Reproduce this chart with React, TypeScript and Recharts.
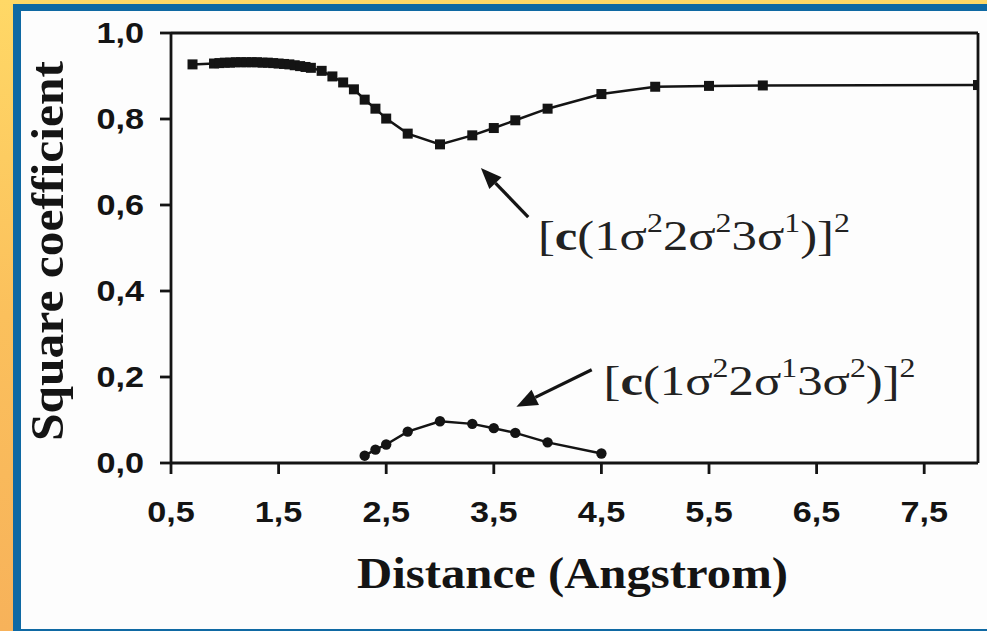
import React from "react";
import {
  LineChart,
  Line,
  XAxis,
  YAxis,
  ReferenceLine,
  ReferenceDot,
  Label,
} from "recharts";

// [c(1σ²2σ²3σ¹)]² — square markers
const distA = [
  0.7, 0.9, 0.95, 1.0, 1.05, 1.1, 1.15, 1.2, 1.25, 1.3, 1.35, 1.4, 1.45, 1.5,
  1.55, 1.6, 1.65, 1.7, 1.75, 1.8, 1.9, 2.0, 2.1, 2.2, 2.3, 2.4, 2.5, 2.7, 3.0,
  3.3, 3.5, 3.7, 4.0, 4.5, 5.0, 5.5, 6.0, 8.0,
];
const coefA = [
  0.927, 0.929, 0.93, 0.931, 0.931, 0.932, 0.932, 0.932, 0.932, 0.932, 0.931,
  0.931, 0.93, 0.929, 0.928, 0.927, 0.925, 0.923, 0.921, 0.919, 0.912, 0.899,
  0.885, 0.869, 0.845, 0.824, 0.801, 0.766, 0.741, 0.762, 0.779, 0.797, 0.824,
  0.858, 0.875, 0.877, 0.878, 0.879,
];

// [c(1σ²2σ¹3σ²)]² — round markers
const distB = [2.3, 2.4, 2.5, 2.7, 3.0, 3.3, 3.5, 3.7, 4.0, 4.5];
const coefB = [0.017, 0.031, 0.043, 0.073, 0.097, 0.091, 0.081, 0.07, 0.048, 0.022];

const xTicks = [0.5, 1.5, 2.5, 3.5, 4.5, 5.5, 6.5, 7.5];
const yTicks = [0, 0.2, 0.4, 0.6, 0.8, 1.0];

const seriesA = distA.map((x, i) => ({ x, y: coefA[i] }));
const seriesB = distB.map((x, i) => ({ x, y: coefB[i] }));

const INK = "#141414";
const sans = "'Liberation Sans', Arial, sans-serif";
const serif = "'Liberation Serif', 'Times New Roman', serif";

const fmt = (v: number) => v.toFixed(1).replace(".", ",");

// the scan is a little wider than tall, so text gets stretched sideways
const STRETCH = 1.18;

const XTick = (p: any) => (
  <text
    transform={`translate(${p.x} ${p.y}) scale(${STRETCH} 1)`}
    textAnchor="middle"
    dy="0.71em"
    fill={INK}
    fontFamily={sans}
    fontWeight={700}
    fontSize={29}
  >
    {fmt(p.payload.value)}
  </text>
);

const YTick = (p: any) => (
  <text
    transform={`translate(${p.x} ${p.y}) scale(${STRETCH} 1)`}
    textAnchor="end"
    dy="0.355em"
    fill={INK}
    fontFamily={sans}
    fontWeight={700}
    fontSize={29}
  >
    {fmt(p.payload.value)}
  </text>
);

const SquareDot = (p: any) => (
  <rect key={p.key} x={p.cx - 5} y={p.cy - 5} width={10} height={10} fill={INK} />
);
const RoundDot = (p: any) => (
  <circle key={p.key} cx={p.cx} cy={p.cy} r={5.2} fill={INK} />
);

const Arrow = (p: any) => {
  const { x1, y1, x2, y2 } = p;
  const a = Math.atan2(y2 - y1, x2 - x1);
  const len = 21;
  const w = 8.5;
  const bx = x2 - len * Math.cos(a);
  const by = y2 - len * Math.sin(a);
  const nx = -Math.sin(a) * w;
  const ny = Math.cos(a) * w;
  return (
    <g>
      <line x1={x1} y1={y1} x2={bx} y2={by} stroke={INK} strokeWidth={3.2} />
      <polygon
        points={`${x2},${y2} ${bx + nx},${by + ny} ${bx - nx},${by - ny}`}
        fill={INK}
      />
    </g>
  );
};

const formula = (sups: string[]) => (p: any) => {
  const ss = 27;
  const up = 18;
  return (
    <text
      transform={`translate(${p.cx} ${p.cy}) scale(${STRETCH} 1)`}
      fontFamily={serif}
      fontSize={43}
      fill="#222"
    >
      <tspan>[</tspan>
      <tspan fontWeight={700}>c</tspan>
      <tspan>(1σ</tspan>
      <tspan dy={-up} fontSize={ss}>{sups[0]}</tspan>
      <tspan dy={up}>2σ</tspan>
      <tspan dy={-up} fontSize={ss}>{sups[1]}</tspan>
      <tspan dy={up}>3σ</tspan>
      <tspan dy={-up} fontSize={ss}>{sups[2]}</tspan>
      <tspan dy={up}>)]</tspan>
      <tspan dy={-up} fontSize={ss}>2</tspan>
    </text>
  );
};

export default function App() {
  return (
    <div
      style={{
        position: "absolute",
        left: 0,
        top: 0,
        width: 987,
        height: 631,
        background: "linear-gradient(180deg, #ffd866 0%, #fbc05c 50%, #f7b25a 100%)",
        overflow: "hidden",
      }}
    >
      <div
        style={{
          position: "absolute",
          left: 13,
          top: 4,
          right: 0,
          bottom: 0,
          background: "#0f69a3",
        }}
      />
      <div
        style={{
          position: "absolute",
          left: 21,
          top: 11,
          right: 0,
          bottom: 2,
          background: "#fdfdfd",
        }}
      />
      <div style={{ position: "absolute", left: 0, top: 0 }}>
        <LineChart
          width={987}
          height={631}
          margin={{ top: 33, right: 9, left: 0, bottom: 0 }}
        >
          <XAxis
            dataKey="x"
            type="number"
            domain={[0.5, 8]}
            ticks={xTicks}
            allowDataOverflow
            height={168}
            stroke={INK}
            strokeWidth={2.8}
            tickSize={11}
            tickMargin={27}
            tick={XTick}
          >
            <Label
              content={(lp: any) => {
                const vb = lp.viewBox;
                return (
                  <text
                    x={vb.x + vb.width / 2 - 2}
                    y={vb.y + 125}
                    textAnchor="middle"
                    fontFamily={serif}
                    fontWeight={700}
                    fontSize={44}
                    textLength={431}
                    lengthAdjust="spacingAndGlyphs"
                    fill={INK}
                  >
                    Distance (Angstrom)
                  </text>
                );
              }}
            />
          </XAxis>
          <YAxis
            type="number"
            domain={[0, 1]}
            ticks={yTicks}
            width={171}
            stroke={INK}
            strokeWidth={2.8}
            tickSize={11}
            tickMargin={16}
            tick={YTick}
          >
            <Label
              content={(lp: any) => {
                const vb = lp.viewBox;
                const cx = 63;
                const cy = vb.y + vb.height / 2 + 3;
                return (
                  <text
                    x={cx}
                    y={cy}
                    transform={`rotate(-90 ${cx} ${cy})`}
                    textAnchor="middle"
                    fontFamily={serif}
                    fontWeight={700}
                    fontSize={47}
                    textLength={380}
                    lengthAdjust="spacingAndGlyphs"
                    fill={INK}
                  >
                    Square coefficient
                  </text>
                );
              }}
            />
          </YAxis>
          <ReferenceLine y={1} stroke={INK} strokeWidth={2.8} />
          <ReferenceLine x={8} stroke={INK} strokeWidth={2.8} />
          <Line
            data={seriesA}
            dataKey="y"
            type="linear"
            stroke={INK}
            strokeWidth={2.5}
            dot={SquareDot}
            activeDot={false}
            isAnimationActive={false}
          />
          <Line
            data={seriesB}
            dataKey="y"
            type="linear"
            stroke={INK}
            strokeWidth={2.5}
            dot={RoundDot}
            activeDot={false}
            isAnimationActive={false}
          />
          <ReferenceLine
            segment={[
              { x: 3.82, y: 0.572 },
              { x: 3.38, y: 0.686 },
            ]}
            shape={Arrow}
          />
          <ReferenceLine
            segment={[
              { x: 4.41, y: 0.217 },
              { x: 3.71, y: 0.131 },
            ]}
            shape={Arrow}
          />
          <ReferenceDot x={3.91} y={0.495} shape={formula(["2", "2", "1"])} />
          <ReferenceDot x={4.52} y={0.159} shape={formula(["2", "1", "2"])} />
        </LineChart>
      </div>
    </div>
  );
}
